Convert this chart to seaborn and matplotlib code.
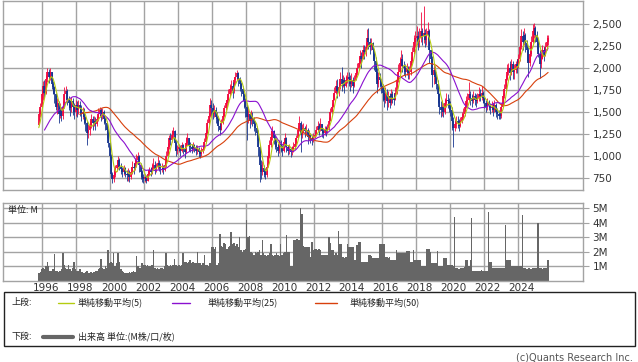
import numpy as np
import pandas as pd
import matplotlib
matplotlib.use("Agg")
import matplotlib.pyplot as plt
from matplotlib.lines import Line2D
from matplotlib.patches import Rectangle
from matplotlib.transforms import ScaledTranslation
import seaborn as sns

# -------------------------------
# DATA (monthly)
# -------------------------------

# months before the visible range, only used for the moving averages (1994-02 .. 1995-09)
pre_close = [1150, 1180, 1220, 1260, 1240, 1200, 1170, 1210, 1250, 1230, 1190, 1150,
             1120, 1090, 1130, 1180, 1220, 1260, 1300, 1350]

# visible candles 1995-10 .. 2025-10
close = [
    1480, 1560, 1700,
    1800, 1720, 1880, 1950, 1900, 1960, 1820, 1780, 1700, 1560, 1600, 1480,
    1520, 1450, 1560, 1700, 1740, 1640, 1600, 1540, 1620, 1560, 1500, 1580,
    1520, 1580, 1540, 1480, 1500, 1440, 1380, 1260, 1300, 1340, 1420, 1380,
    1400, 1360, 1420, 1480, 1520, 1460, 1500, 1420, 1380, 1300, 1150, 1000,
    800, 740, 780, 860, 900, 950, 880, 850, 820, 860, 800, 780,
    800, 760, 820, 880, 860, 920, 960, 1000, 900, 820, 760, 740,
    760, 720, 800, 840, 820, 860, 900, 850, 880, 920, 880, 860,
    860, 840, 900, 1000, 1100, 1200, 1180, 1240, 1280, 1150, 1060, 1080,
    1100, 1060, 1120, 1080, 1040, 1150, 1200, 1120, 1100, 1080, 1120, 1090,
    1060, 1080, 1040, 1020, 1060, 1080, 1160, 1260, 1380, 1460, 1580, 1540,
    1480, 1520, 1440, 1420, 1340, 1300, 1380, 1460, 1540, 1600, 1640, 1700,
    1760, 1800, 1740, 1860, 1900, 1940, 1880, 1820, 1760, 1700, 1620, 1560,
    1440, 1480, 1400, 1460, 1420, 1360, 1320, 1260, 1100, 900, 820, 860,
    820, 780, 880, 1000, 1120, 1220, 1280, 1200, 1160, 1100, 1060, 1140,
    1100, 1060, 1160, 1200, 1100, 1060, 1080, 1040, 1060, 1100, 1140, 1200,
    1300, 1380, 1240, 1300, 1320, 1280, 1300, 1220, 1240, 1200, 1180, 1220,
    1240, 1300, 1340, 1300, 1360, 1280, 1260, 1300, 1280, 1320, 1400, 1500,
    1560, 1640, 1720, 1800, 1740, 1780, 1880, 1820, 1860, 1800, 1860, 1900,
    1880, 1820, 1860, 1800, 1860, 1940, 2000, 2060, 2140, 2100, 2200, 2180,
    2240, 2340, 2300, 2240, 2280, 2200, 2080, 1960, 1820, 1900, 1860, 1800,
    1720, 1640, 1700, 1620, 1680, 1600, 1700, 1660, 1640, 1720, 1860, 1960,
    2060, 2100, 2020, 2000, 1960, 2000, 1940, 1960, 2080, 2180, 2300, 2340,
    2360, 2300, 2340, 2420, 2360, 2400, 2320, 2380, 2420, 2200, 2100, 1920,
    1980, 1900, 1820, 1700, 1560, 1520, 1560, 1500, 1600, 1640, 1620, 1580,
    1520, 1400, 1320, 1360, 1400, 1380, 1340, 1400, 1440, 1480, 1560, 1620,
    1640, 1700, 1660, 1620, 1680, 1640, 1620, 1660, 1700, 1680, 1720, 1660,
    1600, 1560, 1600, 1580, 1540, 1560, 1520, 1580, 1500, 1480, 1460, 1450,
    1560, 1680, 1760, 1880, 1960, 2000, 1940, 2040, 1960, 1980, 2040, 2020,
    2100, 2240, 2360, 2300, 2380, 2280, 2200, 2060, 2160, 2300, 2420, 2460,
    2380, 2300, 2160, 2040, 2100, 2200, 2140, 2240, 2300, 2340,
]

high = [
    1530, 1600, 1760,
    1850, 1860, 1920, 2000, 1990, 2000, 1960, 1850, 1800, 1720, 1660, 1620,
    1600, 1560, 1620, 1780, 1800, 1760, 1680, 1640, 1670, 1660, 1600, 1640,
    1620, 1640, 1620, 1580, 1560, 1540, 1460, 1400, 1360, 1400, 1480, 1460,
    1460, 1440, 1460, 1540, 1560, 1540, 1540, 1520, 1440, 1400, 1320, 1160,
    1020, 820, 830, 900, 960, 1000, 980, 920, 880, 900, 880, 840,
    860, 840, 880, 940, 920, 980, 1020, 1040, 1010, 920, 840, 800,
    800, 780, 840, 880, 880, 920, 980, 940, 920, 1000, 960, 920,
    920, 900, 940, 1060, 1150, 1240, 1260, 1300, 1330, 1290, 1180, 1120,
    1140, 1120, 1160, 1140, 1100, 1220, 1260, 1200, 1160, 1140, 1160, 1140,
    1120, 1120, 1100, 1070, 1100, 1120, 1200, 1300, 1420, 1500, 1660, 1640,
    1600, 1580, 1560, 1500, 1460, 1380, 1420, 1500, 1580, 1640, 1680, 1760,
    1820, 1860, 1840, 1900, 1960, 1980, 1960, 1900, 1840, 1800, 1720, 1660,
    1600, 1560, 1500, 1520, 1500, 1440, 1400, 1340, 1300, 1120, 960, 940,
    900, 860, 920, 1060, 1180, 1300, 1340, 1300, 1240, 1200, 1140, 1180,
    1180, 1120, 1200, 1260, 1220, 1130, 1140, 1100, 1110, 1160, 1200, 1240,
    1340, 1450, 1400, 1360, 1380, 1340, 1360, 1320, 1290, 1260, 1240, 1260,
    1280, 1340, 1400, 1380, 1430, 1360, 1320, 1340, 1340, 1360, 1440, 1540,
    1600, 1700, 1780, 1860, 1880, 1840, 1960, 2010, 1920, 1900, 1920, 1960,
    1960, 1920, 1940, 1900, 1920, 2000, 2060, 2120, 2200, 2180, 2260, 2260,
    2300, 2440, 2450, 2340, 2340, 2300, 2220, 2120, 2000, 1960, 1940, 1880,
    1820, 1760, 1780, 1760, 1740, 1720, 1760, 1740, 1720, 1780, 1900, 2040,
    2120, 2200, 2160, 2080, 2040, 2060, 2020, 2020, 2120, 2240, 2380, 2420,
    2480, 2420, 2460, 2640, 2460, 2700, 2440, 2460, 2520, 2440, 2200, 2140,
    2060, 2020, 1960, 1860, 1720, 1620, 1640, 1600, 1660, 1720, 1700, 1660,
    1620, 1560, 1440, 1420, 1460, 1460, 1420, 1440, 1500, 1540, 1600, 1680,
    1720, 1840, 1740, 1700, 1740, 1720, 1700, 1720, 1780, 1760, 1790, 1740,
    1680, 1640, 1660, 1640, 1600, 1620, 1600, 1640, 1600, 1540, 1520, 1500,
    1600, 1720, 1820, 1920, 2040, 2060, 2080, 2100, 2080, 2040, 2080, 2100,
    2160, 2300, 2440, 2420, 2450, 2400, 2320, 2240, 2240, 2360, 2500, 2510,
    2480, 2420, 2340, 2200, 2160, 2260, 2240, 2300, 2380, 2380,
]

low = [
    1350, 1440, 1540,
    1640, 1660, 1700, 1840, 1830, 1860, 1760, 1700, 1600, 1520, 1480, 1380,
    1430, 1400, 1420, 1540, 1640, 1580, 1520, 1460, 1500, 1470, 1420, 1460,
    1440, 1480, 1460, 1400, 1420, 1360, 1280, 1130, 1200, 1240, 1320, 1300,
    1340, 1300, 1340, 1400, 1440, 1400, 1420, 1360, 1300, 1200, 1100, 980,
    760, 690, 700, 760, 830, 870, 840, 800, 760, 780, 760, 720,
    720, 700, 740, 800, 800, 840, 880, 920, 820, 740, 700, 690,
    700, 690, 720, 780, 770, 800, 840, 800, 820, 850, 830, 800,
    820, 800, 830, 880, 990, 1080, 1120, 1160, 1200, 1080, 1000, 1020,
    1040, 1000, 1050, 1020, 980, 1030, 1120, 1060, 1040, 1030, 1060, 1040,
    1010, 1020, 990, 980, 1000, 1030, 1070, 1150, 1250, 1360, 1440, 1460,
    1420, 1440, 1380, 1360, 1280, 1240, 1290, 1360, 1440, 1520, 1560, 1600,
    1680, 1720, 1660, 1720, 1820, 1860, 1800, 1740, 1680, 1620, 1540, 1440,
    1180, 1380, 1320, 1360, 1340, 1280, 1240, 1180, 1000, 710, 740, 780,
    760, 740, 760, 870, 980, 1100, 1180, 1140, 1080, 1040, 1000, 1030,
    1040, 1000, 1050, 1140, 1040, 1010, 1020, 990, 1010, 1040, 1080, 1130,
    1200, 1280, 1040, 1200, 1260, 1220, 1240, 1140, 1180, 1150, 1130, 1160,
    1200, 1230, 1280, 1240, 1280, 1220, 1200, 1240, 1230, 1260, 1300, 1400,
    1480, 1560, 1640, 1700, 1660, 1680, 1760, 1740, 1780, 1720, 1780, 1830,
    1800, 1740, 1780, 1720, 1780, 1860, 1920, 1980, 2040, 2000, 2100, 2100,
    2140, 2220, 2220, 2160, 2200, 2100, 1980, 1880, 1720, 1780, 1780, 1720,
    1620, 1560, 1600, 1520, 1560, 1540, 1580, 1600, 1580, 1640, 1700, 1840,
    1940, 2020, 1960, 1920, 1900, 1920, 1880, 1880, 1920, 2060, 2160, 2240,
    2260, 2200, 2240, 2300, 2260, 2280, 2240, 2260, 2320, 2060, 1960, 1780,
    1820, 1840, 1760, 1600, 1480, 1440, 1460, 1440, 1480, 1560, 1540, 1500,
    1460, 1300, 1100, 1280, 1320, 1320, 1280, 1330, 1380, 1420, 1460, 1540,
    1560, 1620, 1580, 1560, 1600, 1580, 1560, 1600, 1620, 1620, 1640, 1600,
    1540, 1500, 1520, 1520, 1480, 1500, 1460, 1500, 1440, 1420, 1420, 1420,
    1430, 1560, 1660, 1740, 1860, 1920, 1860, 1920, 1880, 1880, 1940, 1940,
    2000, 2080, 2220, 2200, 2260, 2180, 2080, 1900, 2020, 2140, 2280, 2340,
    2300, 2220, 2120, 1890, 2000, 2100, 2080, 2140, 2200, 2260,
]

# volume in millions of shares
volume = [
    0.5, 0.6, 0.8,
    0.9, 0.8, 1.0, 1.3, 1.0, 0.7, 0.7, 0.8, 1.85, 0.7, 0.7, 0.6,
    0.7, 0.8, 1.9, 1.1, 0.9, 0.8, 1.1, 0.8, 0.7, 0.9, 1.3, 0.8,
    0.7, 0.7, 0.8, 0.6, 0.6, 0.5, 0.6, 0.7, 0.5, 0.5, 0.6, 0.5,
    0.6, 0.7, 0.7, 0.8, 0.9, 1.5, 0.9, 0.8, 1.0, 0.9, 2.1, 1.2,
    1.3, 1.2, 1.9, 1.0, 1.2, 1.9, 1.3, 0.8, 0.7, 0.6, 0.5, 0.5,
    0.5, 0.6, 0.5, 0.6, 0.7, 0.6, 1.7, 1.0, 0.9, 0.9, 1.2, 1.1,
    1.1, 1.0, 1.1, 1.0, 1.0, 1.1, 2.15, 0.9, 0.8, 0.9, 0.8, 0.9,
    0.9, 0.8, 1.0, 1.9, 1.1, 1.0, 1.1, 1.0, 1.1, 1.5, 1.1, 1.0,
    1.1, 1.0, 1.1, 1.9, 1.3, 1.3, 1.2, 1.3, 1.4, 1.2, 1.3, 1.2,
    1.2, 2.0, 1.2, 1.2, 1.1, 1.2, 1.75, 1.1, 1.1, 1.0, 1.2, 2.3,
    2.3, 2.2, 2.3, 1.1, 1.2, 3.25, 2.4, 2.3, 2.6, 2.5, 2.2, 2.3,
    2.4, 3.35, 2.5, 2.6, 2.4, 2.5, 2.3, 3.0, 2.1, 2.0, 2.1, 2.2,
    4.2, 3.0, 3.1, 2.0, 1.9, 1.8, 2.0, 1.9, 2.0, 2.1, 1.8, 2.8,
    1.9, 1.8, 1.7, 1.8, 1.9, 2.5, 1.8, 1.7, 1.8, 1.9, 1.8, 1.7,
    2.5, 1.8, 1.9, 2.0, 3.15, 2.0, 2.0, 1.0, 1.0, 2.8, 2.8, 2.9,
    2.9, 2.8, 5.05, 4.6, 2.4, 2.35, 2.35, 2.3, 2.3, 1.65, 2.7, 2.1,
    2.2, 2.2, 2.1, 2.2, 2.1, 1.8, 1.8, 1.8, 1.8, 1.8, 3.0, 2.6,
    2.1, 2.1, 1.8, 1.9, 1.8, 3.4, 2.5, 2.5, 1.65, 1.6, 1.65, 2.5,
    2.35, 2.35, 2.3, 2.35, 1.4, 1.4, 2.45, 2.7, 2.7, 1.3, 1.3, 1.3,
    1.3, 1.3, 1.75, 1.75, 1.7, 1.6, 1.6, 1.6, 1.6, 1.6, 2.5, 2.5,
    2.5, 2.5, 1.65, 1.65, 1.6, 1.65, 1.4, 1.4, 1.4, 1.4, 2.15, 1.9,
    1.9, 1.9, 1.9, 1.9, 1.9, 2.05, 2.05, 2.05, 1.3, 1.3, 2.15, 1.4,
    1.4, 1.4, 1.4, 1.4, 1.0, 1.0, 1.0, 2.2, 2.2, 2.2, 2.0, 1.2,
    1.2, 1.2, 1.2, 2.05, 1.0, 1.0, 1.0, 1.55, 1.55, 1.55, 1.1, 1.1,
    1.1, 1.1, 1.0, 4.4, 0.9, 0.85, 0.8, 0.85, 0.9, 0.85, 0.95, 1.4,
    1.4, 1.0, 1.4, 4.3, 0.7, 0.7, 0.7, 0.7, 0.7, 0.7, 0.75, 0.7,
    0.7, 0.7, 0.7, 4.75, 1.3, 1.3, 0.9, 0.9, 0.9, 0.9, 0.9, 0.9,
    0.9, 0.9, 0.9, 3.85, 1.4, 1.4, 1.4, 1.0, 1.0, 1.0, 1.0, 1.0,
    1.0, 1.0, 1.0, 4.5, 0.85, 0.9, 0.8, 0.85, 0.9, 0.8, 0.85, 0.9,
    0.85, 0.9, 4.0, 0.85, 0.85, 0.8, 0.9, 0.85, 0.85, 1.45,
]

price_ticks = [750, 1000, 1250, 1500, 1750, 2000, 2250, 2500]
vol_ticks = [1, 2, 3, 4, 5]
year_ticks = list(range(1996, 2025, 2))
ma_periods = [5, 25, 50]
ma_labels = ["単純移動平均(5)", "単純移動平均(25)", "単純移動平均(50)"]

# -------------------------------
# PREP
# -------------------------------
W, H = 638, 362
months = pd.period_range("1994-02", periods=len(pre_close) + len(close), freq="M")
df = pd.DataFrame({"close": pre_close + close})
df["x"] = months.year + (months.month - 0.5) / 12
for p in ma_periods:
    df[f"ma{p}"] = df["close"].rolling(p).mean()
df["open"] = df["close"].shift(1)
df = df.iloc[len(pre_close):].reset_index(drop=True)
df["high"] = np.maximum(high, df[["open", "close"]].max(axis=1))
df["low"] = np.minimum(low, df[["open", "close"]].min(axis=1))
df["volume"] = volume

sns.set_style("white")
plt.rcParams["font.family"] = ["DejaVu Sans", "Noto Sans CJK JP"]
JP = ["Noto Sans CJK JP", "DejaVu Sans"]
GRID = "#a3a3a3"
RED, BLUE = "#f2083e", "#16348f"
MA_COLORS = ["#b4cc10", "#8a10d0", "#d8400c"]


def fx(px):
    return px / W


def fy(py):
    return 1 - py / H


fig = plt.figure(figsize=(W / 100, H / 100), dpi=100)
ax = fig.add_axes([fx(3.3), fy(190.3), fx(579.4), 189.8 / H])
axv = fig.add_axes([fx(3.3), fy(280.7), fx(579.4), 77.4 / H])
xlim = (1993.70, 2027.83)

# candles
up = df["close"] >= df["open"]
for mask, col in [(up, RED), (~up, BLUE)]:
    d = df[mask]
    ax.vlines(d["x"], d["low"], d["high"], color=col, lw=0.6, zorder=2)
    ax.vlines(d["x"], d[["open", "close"]].min(axis=1), d[["open", "close"]].max(axis=1),
              color=col, lw=1.3, zorder=2)

# moving averages
for p, col in zip(ma_periods[::-1], MA_COLORS[::-1]):
    sns.lineplot(data=df, x="x", y=f"ma{p}", ax=ax, color=col, lw=0.8, zorder=3)

ax.set_xlim(*xlim)
ax.set_ylim(610, 2767)
ax.set_xticks(year_ticks)
ax.set_xticklabels([])
ax.set_yticks(price_ticks)
ax.set_yticklabels([f"{v:,}" for v in price_ticks])
ax.yaxis.tick_right()
ax.tick_params(axis="x", length=0)
ax.tick_params(axis="y", length=4, color=GRID, labelsize=7.5, labelcolor="#333333", pad=3)
ax.grid(True, color=GRID, lw=1)
ax.set_xlabel("")
ax.set_ylabel("")

# volume
axv.bar(df["x"], df["volume"], width=1 / 12, color="#666666", lw=0, zorder=2)
axv.set_xlim(*xlim)
axv.set_ylim(0, 5.34)
axv.set_yticks(vol_ticks)
axv.set_yticklabels([f"{v}M" for v in vol_ticks])
axv.yaxis.tick_right()
axv.set_xticks(year_ticks)
axv.set_xticklabels([str(y) for y in year_ticks])
axv.tick_params(axis="x", length=0, labelsize=7.5, labelcolor="#333333", pad=2)
axv.tick_params(axis="y", length=4, color=GRID, labelsize=7.5, labelcolor="#333333", pad=3)
for lab in axv.get_xticklabels():
    lab.set_transform(lab.get_transform() + ScaledTranslation(4 / 100, 0, fig.dpi_scale_trans))
axv.grid(True, color=GRID, lw=1)
axv.set_xlabel("")
axv.set_ylabel("")

for a in (ax, axv):
    for s in a.spines.values():
        s.set_color(GRID)
        s.set_linewidth(1)

fig.text(fx(8), fy(210), "単位: M", family=JP, fontsize=6.5, va="center", color="#222222")

# legend box
fig.add_artist(Rectangle((fx(3.5), fy(346)), fx(631), 54 / H, transform=fig.transFigure,
                         fill=False, ec="#222222", lw=1))
fig.text(fx(12), fy(302.5), "上段:", family=JP, fontsize=6.5, va="center", color="#222222")
seg = [(58, 74, 78), (172, 190, 207), (315, 337, 350)]
for (x0, x1, xt), col, lab in zip(seg, MA_COLORS, ma_labels):
    fig.add_artist(Line2D([fx(x0), fx(x1)], [fy(302.5)] * 2, color=col, lw=1.0,
                          transform=fig.transFigure))
    fig.text(fx(xt), fy(302.5), lab, family=JP, fontsize=6.5, va="center", color="#222222")
fig.text(fx(12), fy(336.5), "下段:", family=JP, fontsize=6.5, va="center", color="#222222")
fig.add_artist(Line2D([fx(43), fx(73)], [fy(336.5)] * 2, color="#666666", lw=3,
                      transform=fig.transFigure))
fig.text(fx(78), fy(336.5), "出来高 単位:(M株/口/枚)", family=JP, fontsize=6.5, va="center",
         color="#222222")

fig.text(fx(633), fy(357.5), "(c)Quants Research Inc.", fontsize=7, ha="right", va="center",
         color="#555555")

fig.savefig("out.png", dpi=100)
